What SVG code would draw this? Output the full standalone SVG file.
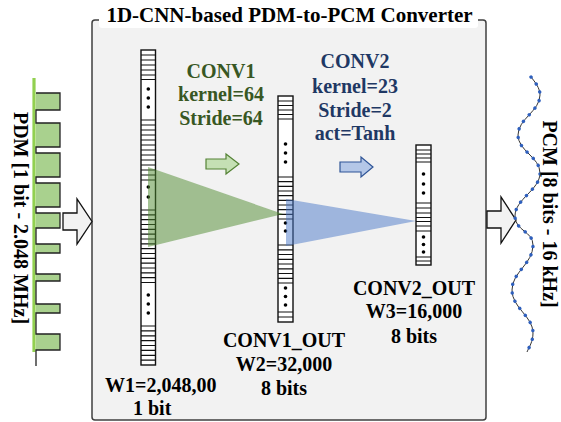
<svg xmlns="http://www.w3.org/2000/svg" width="561" height="422" viewBox="0 0 561 422">
<style>
text{font-family:"Liberation Serif","Times New Roman",serif;font-weight:bold;font-size:20px;fill:#000}
.mid{text-anchor:middle}
.g{fill:#385723}
.b{fill:#1f3864}
.col{fill:#fff;stroke:#111;stroke-width:1.4}
.st{stroke:#111;stroke-width:1.2;fill:none}
.dot{fill:#000}
.blk{fill:#f2f2f2;stroke:#111;stroke-width:1.3;stroke-linejoin:miter}
</style>
<rect width="561" height="422" fill="#fff"/>
<g id="converter-box">
<rect x="92" y="20" width="394" height="400" rx="3" fill="#f2f2f2" stroke="#404040" stroke-width="1.5"/>
<rect x="99" y="6" width="379" height="22" rx="3" fill="#fff"/>
<text id="title" x="289.5" y="22" class="mid" style="font-size:21px">1D-CNN-based PDM-to-PCM Converter</text>
</g>
<g id="pdm-input">
<line x1="34" y1="78" x2="34" y2="352" stroke="#92d050" stroke-width="3.2"/>
<g fill="#a9d18e">
<rect x="36" y="93" width="24" height="17"/><rect x="36" y="123" width="24" height="24"/><rect x="36" y="153" width="24" height="24"/><rect x="36" y="183" width="24" height="24"/><rect x="36" y="213" width="24" height="15"/><rect x="36" y="244" width="24" height="9"/><rect x="36" y="274" width="24" height="7"/><rect x="36" y="304" width="24" height="9"/><rect x="36" y="334" width="24" height="16"/>
</g>
<path d="M36,93H60V110H36V123H60V147H36V153H60V177H36V183H60V207H36V213H60V228H36V244H60V253H36V274H60V281H36V304H60V313H36V334H60V350H36V366" fill="none" stroke="#222" stroke-width="1.3"/>
<text transform="translate(14,218) rotate(90)" class="mid">PDM [1 bit - 2.048 MHz]</text>
</g>
<g id="col-w1">
<rect class="col" x="141" y="50" width="14.5" height="315"/>
<path class="st" d="M141,55h14.5M141,60h14.5M141,65h14.5M141,70h14.5M141,75h14.5M141,79.5h14.5M141,120h14.5M141,125h14.5M141,130h14.5M141,135h14.5M141,140h14.5M141,145h14.5M141,150h14.5M141,155h14.5M141,160h14.5M141,165h14.5M141,170h14.5M141,175h14.5M141,180h14.5M141,210h14.5M141,214.8h14.5M141,219.7h14.5M141,224.5h14.5M141,229.3h14.5M141,234.2h14.5M141,239h14.5M141,243.8h14.5M141,248.7h14.5M141,253.5h14.5M141,258.3h14.5M141,263.2h14.5M141,268h14.5M141,272.8h14.5M141,277.7h14.5M141,282.5h14.5M141,326h14.5M141,330.9h14.5M141,335.8h14.5M141,340.6h14.5M141,345.5h14.5M141,350.4h14.5M141,355.3h14.5M141,360.1h14.5"/>
<g class="dot"><circle cx="148.3" cy="89" r="1.8"/><circle cx="148.3" cy="98" r="1.8"/><circle cx="148.3" cy="107" r="1.8"/><circle cx="148.3" cy="187" r="1.8"/><circle cx="148.3" cy="197" r="1.8"/><circle cx="148.3" cy="295" r="1.8"/><circle cx="148.3" cy="304" r="1.8"/><circle cx="148.3" cy="313" r="1.8"/></g>
<text x="105" y="392">W1=2,048,00</text>
<text x="133" y="415">1 bit</text>
</g>
<g id="col-conv1-out">
<rect class="col" x="278" y="96" width="15" height="226"/>
<path class="st" d="M278,101h15M278,105.5h15M278,110h15M278,114.5h15M278,119h15M278,177h15M278,181.7h15M278,186.3h15M278,191h15M278,195.7h15M278,200.3h15M278,205h15M278,209.7h15M278,214.3h15M278,219h15M278,245h15M278,249.8h15M278,254.5h15M278,259.3h15M278,264h15M278,268.8h15M278,273.5h15M278,278.3h15M278,283h15M278,312h15M278,317h15"/>
<g class="dot"><circle cx="285.5" cy="144" r="1.8"/><circle cx="285.5" cy="153" r="1.8"/><circle cx="285.5" cy="162" r="1.8"/><circle cx="285.5" cy="223" r="1.8"/><circle cx="285.5" cy="231" r="1.8"/><circle cx="285.5" cy="288" r="1.8"/><circle cx="285.5" cy="296.5" r="1.8"/><circle cx="285.5" cy="305" r="1.8"/></g>
<text x="284" y="347" class="mid">CONV1_OUT</text>
<text x="284" y="371" class="mid">W2=32,000</text>
<text x="284" y="395" class="mid">8 bits</text>
</g>
<g id="col-conv2-out">
<rect class="col" x="416" y="145" width="15" height="120"/>
<path class="st" d="M416,150h15M416,154h15M416,158h15M416,162h15M416,203h15M416,208h15M416,213h15M416,217.5h15M416,221.5h15M416,226h15M416,231h15M416,257h15M416,261h15"/>
<g class="dot"><circle cx="423.5" cy="174" r="1.8"/><circle cx="423.5" cy="184" r="1.8"/><circle cx="423.5" cy="193" r="1.8"/><circle cx="423.5" cy="237" r="1.8"/><circle cx="423.5" cy="244.5" r="1.8"/><circle cx="423.5" cy="252" r="1.8"/></g>
<text x="414" y="295" class="mid">CONV2_OUT</text>
<text x="414" y="318" class="mid">W3=16,000</text>
<text x="414" y="343" class="mid">8 bits</text>
</g>
<g id="kernel-conv1">
<polygon points="148,167 283,214 148,247" fill="#4e8a2e" fill-opacity="0.5"/>
</g>
<g id="kernel-conv2">
<polygon points="286,199 416,221 286,246" fill="#4a78c8" fill-opacity="0.5"/>
</g>
<g id="conv1-label">
<text x="221" y="78" class="mid g">CONV1</text>
<text x="221" y="101" class="mid g">kernel=64</text>
<text x="221" y="124.5" class="mid g">Stride=64</text>
</g>
<g id="conv2-label">
<text x="355" y="68" class="mid b">CONV2</text>
<text x="355" y="92.5" class="mid b">kernel=23</text>
<text x="355" y="116.5" class="mid b">Stride=2</text>
<text x="355" y="140" class="mid b">act=Tanh</text>
</g>
<g id="connectors">
<path d="M206,159H226V154L239,164L226,174V169H206Z" fill="#c5e0b4" stroke="#548235" stroke-width="1.2"/>
<path d="M340,162H361V157L373,167L361,177V172H340Z" fill="#b4c7e7" stroke="#2f5597" stroke-width="1.2"/>
<path class="blk" d="M63,213H77V199L92,221.5L77,244V230H63Z"/>
<path class="blk" d="M487,211H501V197L516,220L501,243V228H487Z"/>
</g>
<g id="pcm-output">
<path id="wave" d="M531,77C535,82 540,88 540,95C540,111 518,119 518,135C518,151 540,157 540,173C540,190 515,199 515,216C515,231 533,231 533,245C533,264 512,272 512,290C512,308 533,316 533,333C533,342 529,347 527,352" fill="none" stroke="#333" stroke-width="1"/>
<path d="M531,77C535,82 540,88 540,95C540,111 518,119 518,135C518,151 540,157 540,173C540,190 515,199 515,216C515,231 533,231 533,245C533,264 512,272 512,290C512,308 533,316 533,333C533,342 529,347 527,352" fill="none" stroke="#2e5fbd" stroke-width="3.4" stroke-linecap="round" stroke-dasharray="0.1 8.6"/>
<text transform="translate(543,214) rotate(90)" class="mid">PCM [8 bits - 16 kHz]</text>
</g>
</svg>
